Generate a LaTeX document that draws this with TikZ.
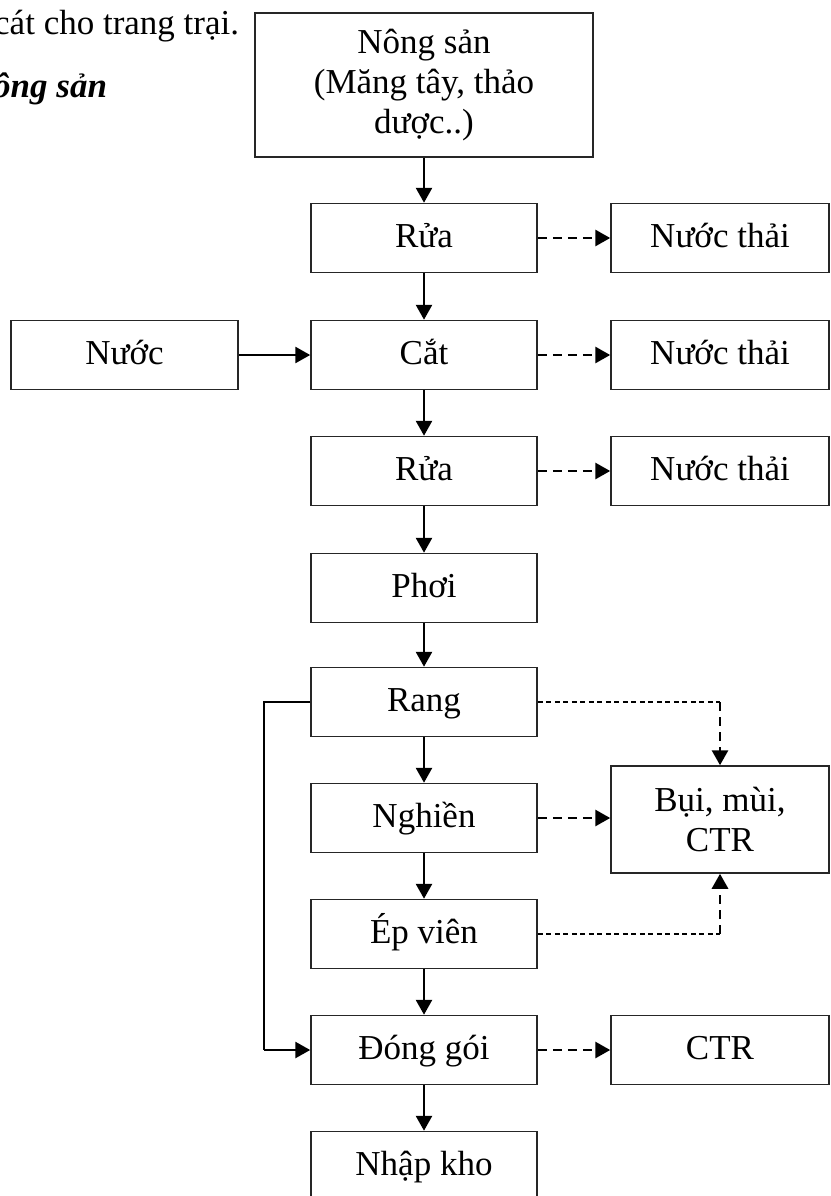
\documentclass[tikz,border=0pt]{standalone}
\usepackage{fontspec}
\setmainfont{Liberation Serif}
\usetikzlibrary{arrows.meta}
\begin{document}
\begin{tikzpicture}[x=1pt,y=-1pt,
  every node/.style={font=\fontsize{35pt}{40pt}\selectfont},
  box/.style={draw=black!85, line width=1.5pt, minimum height=69pt, inner sep=2pt, align=center},
  one/.style={text height=24pt, text depth=5pt},
  proc/.style={box, one, minimum width=226pt},
  side/.style={box, one, minimum width=218pt},
  tip/.style={-{Triangle[length=15pt,width=16pt]}},
  flow/.style={line width=2.7pt, tip},
  waste/.style={line width=2.9pt, dash pattern=on 9pt off 6pt, tip},
  thindash/.style={line width=1.3pt, dash pattern=on 5pt off 3.5pt},
  link/.style={line width=1.5pt}
]
\useasboundingbox (0,0) rectangle (830,1196);

% running text beside the chart
\node[anchor=base west, inner sep=0pt] (line1) at (-6,35) {cát cho trang trại.};
\node[anchor=base west, inner sep=0pt, font=\fontsize{35pt}{40pt}\selectfont\bfseries\itshape] (line2) at (-7,98) {ông sản};

% process column
\node[box, minimum width=338pt, minimum height=144pt] (raw) at (424,85) {Nông sản\\(Măng tây, thảo\\dược..)};
\node[proc] (rua1)  at (424,238)  {Rửa};
\node[proc] (cat)   at (424,355)  {Cắt};
\node[proc] (rua2)  at (424,471)  {Rửa};
\node[proc] (phoi)  at (424,588)  {Phơi};
\node[proc] (rang)  at (424,702)  {Rang};
\node[proc] (nghien) at (424,818) {Nghiền};
\node[proc] (ep)    at (424,934)  {Ép viên};
\node[proc] (dong)  at (424,1050) {Đóng gói};
\node[proc] (nhap)  at (424,1166) {Nhập kho};

% inputs and outputs
\node[box, one, minimum width=227pt] (nuoc) at (124.5,355) {Nước};
\node[side] (nt1) at (720,238) {Nước thải};
\node[side] (nt2) at (720,355) {Nước thải};
\node[side] (nt3) at (720,471) {Nước thải};
\node[box, minimum width=218pt, minimum height=107pt] (bui) at (720,819.5) {Bụi, mùi,\\CTR};
\node[side] (ctr) at (720,1050) {CTR};

% main flow
\draw[flow] (raw.south -| rua1.north) -- (rua1);
\draw[flow] (rua1) -- (cat);
\draw[flow] (cat) -- (rua2);
\draw[flow] (rua2) -- (phoi);
\draw[flow] (phoi) -- (rang);
\draw[flow] (rang) -- (nghien);
\draw[flow] (nghien) -- (ep);
\draw[flow] (ep) -- (dong);
\draw[flow] (dong) -- (nhap);
\draw[flow] (nuoc) -- (cat);

% bypass from roasting straight to packing
\coordinate (byp) at (264,1050);
\draw[link] (rang.west) -| (byp);
\draw[flow] (byp) -- (dong.west);

% waste streams
\draw[waste] (rua1) -- (nt1);
\draw[waste] (cat) -- (nt2);
\draw[waste] (rua2) -- (nt3);
\draw[waste] (nghien.east) -- (nghien.east -| bui.west);
\draw[waste] (dong) -- (ctr);

\coordinate (rk) at (rang.east -| bui.north);
\coordinate (ek) at (ep.east -| bui.south);
\draw[thindash] (rang.east) -- (rk);
\draw[waste] (rk) -- (bui.north);
\draw[thindash] (ep.east) -- (ek);
\draw[waste] (ek) -- (bui.south);
\end{tikzpicture}
\end{document}
